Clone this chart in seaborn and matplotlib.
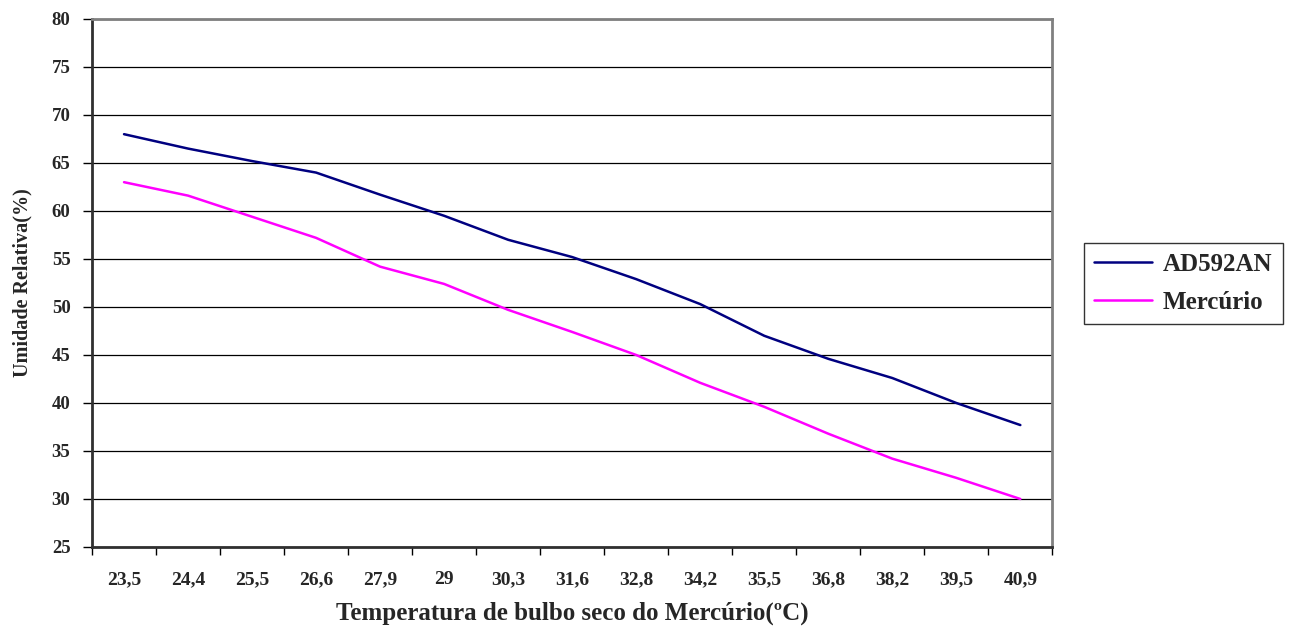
import matplotlib
matplotlib.use("Agg")
import matplotlib.pyplot as plt
import seaborn as sns
import pandas as pd
import numpy as np

categories = ["23,5", "24,4", "25,5", "26,6", "27,9", "29", "30,3", "31,6",
              "32,8", "34,2", "35,5", "36,8", "38,2", "39,5", "40,9"]
ad592an = [68.0, 66.5, 65.2, 64.0, 61.7, 59.5, 57.0, 55.2, 52.9, 50.3,
           47.0, 44.6, 42.6, 40.0, 37.7]
mercurio = [63.0, 61.6, 59.4, 57.2, 54.2, 52.4, 49.7, 47.4, 45.0, 42.1,
            39.6, 36.8, 34.2, 32.2, 30.0]
series_names = ["AD592AN", "Mercúrio"]
colors = ["#000080", "#FF00FF"]
y_ticks = list(range(25, 81, 5))

df = pd.DataFrame({
    "cat": categories * 2,
    "val": ad592an + mercurio,
    "serie": [series_names[0]] * len(categories) + [series_names[1]] * len(categories),
})
df["pos"] = df["cat"].map({c: i for i, c in enumerate(categories)})

sns.set_style("white")
plt.rcParams["font.family"] = ["Liberation Serif", "DejaVu Serif"]

fig = plt.figure(figsize=(12.96, 6.33), dpi=100)
ax = fig.add_axes([0.071, 0.1359, 0.7410, 0.8341])

sns.lineplot(data=df, x="pos", y="val", hue="serie", palette=colors,
             linewidth=1.8, ax=ax, sort=False, legend=True)

ax.set_ylim(25, 80)
ax.set_xlim(-0.5, len(categories) - 0.5)
ax.set_yticks(y_ticks)
ax.set_yticklabels([str(v) for v in y_ticks], fontsize=13.5, fontweight="bold")
ax.set_xticks(range(len(categories)))
ax.set_xticklabels(categories, fontsize=14, fontweight="bold")
ax.set_xticks(np.arange(-0.5, len(categories), 1.0), minor=True)
ax.tick_params(axis="x", which="major", length=0, pad=26.5, bottom=True)
ax.tick_params(axis="x", which="minor", length=5.5, width=1, color="black",
               direction="out", bottom=True)
ax.tick_params(axis="y", which="major", length=6.5, width=1, color="black",
               direction="out", pad=9, left=True)

ax.yaxis.grid(True, color="black", linewidth=0.9)
ax.xaxis.grid(False)
ax.set_axisbelow(True)

for s in ["left", "bottom"]:
    ax.spines[s].set_color("#303030")
    ax.spines[s].set_linewidth(2.0)
for s in ["top", "right"]:
    ax.spines[s].set_color("#808080")
    ax.spines[s].set_linewidth(2.0)

ax.set_xlabel("Temperatura de bulbo seco do Mercúrio(ºC)", fontsize=18,
              fontweight="bold", labelpad=10)
ax.set_ylabel("Umidade Relativa(%)", fontsize=14.5, fontweight="bold", labelpad=14)

handles, labels = ax.get_legend_handles_labels()
ax.legend(handles, labels, loc="center", bbox_to_anchor=(0.9132, 0.5529),
          bbox_transform=fig.transFigure, frameon=True, fancybox=False,
          edgecolor="black", prop={"family": "Liberation Serif", "weight": "bold", "size": 18},
          handlelength=2.3, borderpad=0.4, labelspacing=0.6, handletextpad=0.45,
          borderaxespad=0)
ax.get_legend().get_frame().set_linewidth(1.0)

for t in ax.xaxis.get_major_ticks():
    t.label1.set_verticalalignment("baseline")

fig.savefig("out.png", dpi=100)
